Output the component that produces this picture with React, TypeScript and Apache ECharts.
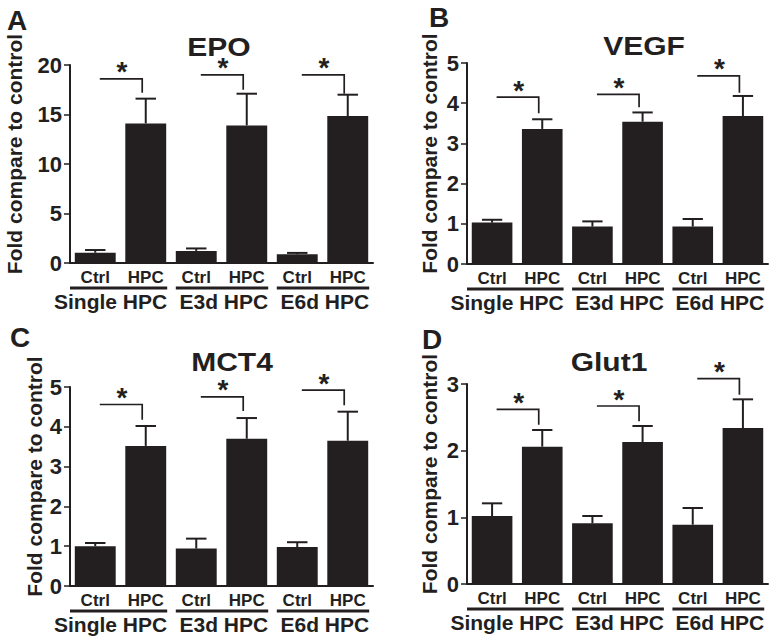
import React, { useEffect, useRef } from 'react';
import * as echarts from 'echarts';

const categories = ['Ctrl', 'HPC', 'Ctrl', 'HPC', 'Ctrl', 'HPC'];
const groupLabels = ['Single HPC', 'E3d HPC', 'E6d HPC'];
const panelLetters = ['A', 'B', 'C', 'D'];
const panelTitles = ['EPO', 'VEGF', 'MCT4', 'Glut1'];
const yAxisLabel = 'Fold compare to control';

const yMax = [20, 5, 5, 3];
const yInterval = [5, 1, 1, 1];

// EPO
const epoMean = [1.04, 14.1, 1.22, 13.9, 0.88, 14.85];
const epoErr = [0.27, 2.5, 0.25, 3.2, 0.14, 2.15];
const epoBracketTop = [18.6, 19.0, 19.0];
const epoBracketDrop = [17.2, 17.5, 17.1];

// VEGF
const vegfMean = [1.03, 3.36, 0.93, 3.54, 0.93, 3.68];
const vegfErr = [0.07, 0.24, 0.13, 0.23, 0.19, 0.5];
const vegfBracketTop = [4.15, 4.22, 4.68];
const vegfBracketDrop = [3.75, 3.9, 4.26];

// MCT4
const mct4Mean = [1.0, 3.52, 0.94, 3.7, 0.98, 3.65];
const mct4Err = [0.08, 0.5, 0.25, 0.52, 0.12, 0.73];
const mct4BracketTop = [4.56, 4.75, 4.92];
const mct4BracketDrop = [4.18, 4.4, 4.54];

// Glut1
const glutMean = [1.02, 2.06, 0.91, 2.13, 0.89, 2.34];
const glutErr = [0.19, 0.25, 0.11, 0.24, 0.25, 0.43];
const glutBracketTop = [2.62, 2.67, 3.08];
const glutBracketDrop = [2.39, 2.44, 2.84];

const panels = [
  { mean: epoMean, err: epoErr, top: epoBracketTop, drop: epoBracketDrop },
  { mean: vegfMean, err: vegfErr, top: vegfBracketTop, drop: vegfBracketDrop },
  { mean: mct4Mean, err: mct4Err, top: mct4BracketTop, drop: mct4BracketDrop },
  { mean: glutMean, err: glutErr, top: glutBracketTop, drop: glutBracketDrop },
];

const INK = '#231f20';
const FONT = "'Liberation Sans', Arial, Helvetica, sans-serif";
const BAR_FRAC = 0.81;

const grids = [
  { left: 70, top: 65, width: 303, height: 198 },
  { left: 467, top: 63, width: 301, height: 201 },
  { left: 70, top: 387, width: 303, height: 199 },
  { left: 467, top: 384, width: 301, height: 200 },
];
const nameGaps = [45, 27, 25, 27];
const letterPos = [[17, 20], [439, 17], [20, 337], [432, 339]];
const titlePos = [[219, 47], [644, 46], [232, 362], [609, 362]];

const GROUP_FONT = `bold 21px ${FONT}`;
let measureCtx: CanvasRenderingContext2D | null = null;
function measure(text: string, font: string): number {
  if (!measureCtx) measureCtx = document.createElement('canvas').getContext('2d');
  if (!measureCtx) return text.length * 11;
  measureCtx.font = font;
  return measureCtx.measureText(text).width;
}

function buildOption() {
  const xAxis: any[] = [];
  const yAxis: any[] = [];
  const series: any[] = [];
  const graphic: any[] = [];

  panels.forEach((p, k) => {
    xAxis.push({
      type: 'category',
      gridIndex: k,
      data: categories,
      axisLine: { lineStyle: { color: INK, width: 2 } },
      axisTick: { alignWithLabel: true, length: 5, lineStyle: { color: INK, width: 1.5 } },
      axisLabel: { color: INK, fontFamily: FONT, fontWeight: 'bold', fontSize: 17, margin: 6 },
      splitLine: { show: false },
    });
    yAxis.push({
      type: 'value',
      gridIndex: k,
      min: 0,
      max: yMax[k],
      interval: yInterval[k],
      name: yAxisLabel,
      nameLocation: 'middle',
      nameGap: nameGaps[k],
      nameTextStyle: { color: INK, fontFamily: FONT, fontWeight: 'bold', fontSize: 21, padding: [0, 0, 0, 20] },
      axisLine: { show: true, lineStyle: { color: INK, width: 2 } },
      axisTick: { show: true, length: 6, lineStyle: { color: INK, width: 1.5 } },
      axisLabel: { color: INK, fontFamily: FONT, fontWeight: 'bold', fontSize: 22, margin: 8 },
      splitLine: { show: false },
    });

    series.push({
      type: 'bar',
      xAxisIndex: k,
      yAxisIndex: k,
      data: p.mean,
      barWidth: `${BAR_FRAC * 100}%`,
      itemStyle: { color: INK },
      z: 2,
    });

    series.push({
      type: 'custom',
      xAxisIndex: k,
      yAxisIndex: k,
      clip: false,
      z: 3,
      encode: { x: 0, y: [1, 2] },
      data: p.mean.map((m, i) => [i, m, m + p.err[i]]),
      renderItem: (params: any, api: any) => {
        const i = api.value(0);
        const m = api.value(1);
        const t = api.value(2);
        const p0 = api.coord([i, m]);
        const p1 = api.coord([i, t]);
        const band = api.size([1, 0])[0];
        const half = (band * BAR_FRAC) / 4;
        return {
          type: 'group',
          children: [
            { type: 'line', shape: { x1: p0[0], y1: p0[1], x2: p1[0], y2: p1[1] }, style: { stroke: INK, lineWidth: 2 } },
            { type: 'line', shape: { x1: p1[0] - half, y1: p1[1], x2: p1[0] + half, y2: p1[1] }, style: { stroke: INK, lineWidth: 2 } },
          ],
        };
      },
    });

    series.push({
      type: 'custom',
      xAxisIndex: k,
      yAxisIndex: k,
      clip: false,
      z: 3,
      encode: { x: [0, 1], y: [2, 3] },
      data: p.top.map((t, g) => [2 * g, 2 * g + 1, t, p.drop[g]]),
      renderItem: (params: any, api: any) => {
        const a = api.value(0);
        const b = api.value(1);
        const top = api.value(2);
        const drop = api.value(3);
        const band = api.size([1, 0])[0];
        const pl = api.coord([a, top]);
        const pr = api.coord([b, top]);
        const pd = api.coord([b, drop]);
        const xl = pl[0] + band * 0.09;
        const xr = pr[0] - band * 0.07;
        return {
          type: 'group',
          children: [
            {
              type: 'polyline',
              shape: { points: [[xl, pl[1]], [xr, pl[1]], [xr, pd[1]]] },
              style: { stroke: INK, lineWidth: 1.7, fill: 'none' },
            },
            {
              type: 'text',
              x: (xl + xr) / 2 + 1,
              y: pl[1] - 7,
              style: {
                text: '*', fill: INK, font: `bold 28px ${FONT}`,
                align: 'center', verticalAlign: 'middle',
              },
            },
          ],
        };
      },
    });

    series.push({
      type: 'custom',
      xAxisIndex: k,
      yAxisIndex: k,
      clip: false,
      z: 3,
      encode: { x: [0, 1] },
      data: groupLabels.map((_, g) => [2 * g, 2 * g + 1, g]),
      renderItem: (params: any, api: any) => {
        const a = api.value(0);
        const b = api.value(1);
        const g = api.value(2);
        const label = groupLabels[g];
        const band = api.size([1, 0])[0];
        const pa = api.coord([a, 0]);
        const pb = api.coord([b, 0]);
        const barHalf = (band * BAR_FRAC) / 2;
        const right = pb[0] + barHalf + 1;
        const tw = measure(label, GROUP_FONT);
        const left = Math.max(pa[0] - band / 2, Math.min(pa[0] - barHalf, right - tw));
        const base = pa[1];
        return {
          type: 'group',
          children: [
            { type: 'line', shape: { x1: left, y1: base + 25, x2: right, y2: base + 25 }, style: { stroke: INK, lineWidth: 3 } },
            {
              type: 'text',
              x: right,
              y: base + 38,
              style: { text: label, fill: INK, font: GROUP_FONT, align: 'right', verticalAlign: 'middle' },
            },
          ],
        };
      },
    });

    graphic.push({
      type: 'text',
      x: letterPos[k][0],
      y: letterPos[k][1],
      style: { text: panelLetters[k], fill: INK, font: `bold 28px ${FONT}`, align: 'center', verticalAlign: 'middle' },
    });
    graphic.push({
      type: 'text',
      x: titlePos[k][0],
      y: titlePos[k][1],
      scaleX: 1.2,
      style: { text: panelTitles[k], fill: INK, font: `bold 25px ${FONT}`, align: 'center', verticalAlign: 'middle' },
    });
  });

  return {
    animation: false,
    backgroundColor: '#ffffff',
    grid: grids.map((g) => ({ ...g, containLabel: false })),
    xAxis,
    yAxis,
    series,
    graphic,
  };
}

export default function App() {
  const ref = useRef<HTMLDivElement>(null);
  useEffect(() => {
    if (!ref.current) return;
    const chart = echarts.init(ref.current, undefined, { renderer: 'svg' });
    chart.setOption(buildOption() as any);
    return () => chart.dispose();
  }, []);
  return (
    <div
      ref={ref}
      style={{ position: 'fixed', left: 0, top: 0, width: 783, height: 644, background: '#fff' }}
    />
  );
}
